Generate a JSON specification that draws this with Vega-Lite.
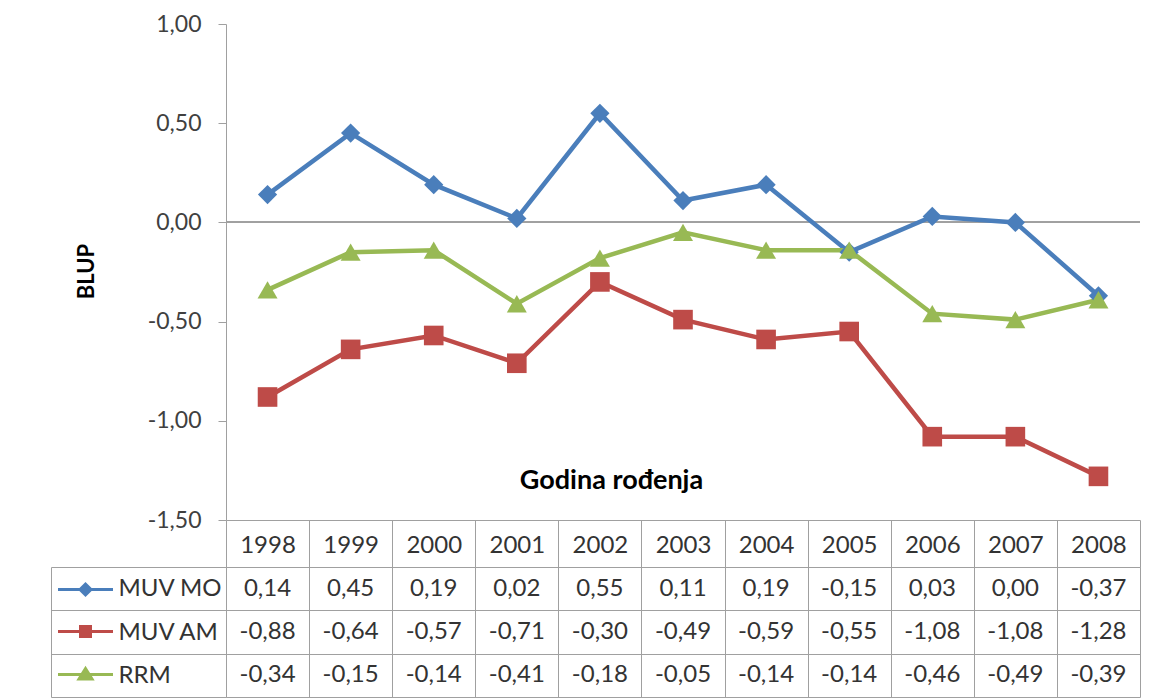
{
  "$schema": "https://vega.github.io/schema/vega-lite/v6.json",
  "background": "white",
  "padding": {"left": 50, "top": 13, "right": 20, "bottom": 0},
  "config": {
    "font": "Lato",
    "view": {"stroke": null},
    "locale": {"number": {"decimal": ",", "thousands": ".", "grouping": [3], "currency": ["", ""], "minus": "-"}}
  },
  "data": {"values": [
    {"year": "1998", "series": "MUV MO", "value": 0.14},
    {"year": "1999", "series": "MUV MO", "value": 0.45},
    {"year": "2000", "series": "MUV MO", "value": 0.19},
    {"year": "2001", "series": "MUV MO", "value": 0.02},
    {"year": "2002", "series": "MUV MO", "value": 0.55},
    {"year": "2003", "series": "MUV MO", "value": 0.11},
    {"year": "2004", "series": "MUV MO", "value": 0.19},
    {"year": "2005", "series": "MUV MO", "value": -0.15},
    {"year": "2006", "series": "MUV MO", "value": 0.03},
    {"year": "2007", "series": "MUV MO", "value": 0.00},
    {"year": "2008", "series": "MUV MO", "value": -0.37},
    {"year": "1998", "series": "MUV AM", "value": -0.88},
    {"year": "1999", "series": "MUV AM", "value": -0.64},
    {"year": "2000", "series": "MUV AM", "value": -0.57},
    {"year": "2001", "series": "MUV AM", "value": -0.71},
    {"year": "2002", "series": "MUV AM", "value": -0.30},
    {"year": "2003", "series": "MUV AM", "value": -0.49},
    {"year": "2004", "series": "MUV AM", "value": -0.59},
    {"year": "2005", "series": "MUV AM", "value": -0.55},
    {"year": "2006", "series": "MUV AM", "value": -1.08},
    {"year": "2007", "series": "MUV AM", "value": -1.08},
    {"year": "2008", "series": "MUV AM", "value": -1.28},
    {"year": "1998", "series": "RRM", "value": -0.34},
    {"year": "1999", "series": "RRM", "value": -0.15},
    {"year": "2000", "series": "RRM", "value": -0.14},
    {"year": "2001", "series": "RRM", "value": -0.41},
    {"year": "2002", "series": "RRM", "value": -0.18},
    {"year": "2003", "series": "RRM", "value": -0.05},
    {"year": "2004", "series": "RRM", "value": -0.14},
    {"year": "2005", "series": "RRM", "value": -0.14},
    {"year": "2006", "series": "RRM", "value": -0.46},
    {"year": "2007", "series": "RRM", "value": -0.49},
    {"year": "2008", "series": "RRM", "value": -0.39}
  ]},
  "spacing": 47,
  "bounds": "flush",
  "resolve": {"scale": {"color": "independent", "shape": "independent", "size": "independent", "fill": "independent", "stroke": "independent"}},
  "vconcat": [
    {
      "width": 914,
      "height": 496,
      "encoding": {
        "x": {"field": "year", "type": "ordinal", "scale": {"type": "point", "padding": 0.5},
          "axis": {"orient": "bottom", "labels": false, "ticks": false, "domain": true, "domainColor": "#a0a0a0", "grid": false,
            "title": "Godina rođenja", "titleFontSize": 27, "titleFontWeight": "bold", "titleColor": "#000000",
            "titleX": 385, "titleY": -40, "titleBaseline": "middle", "titleAlign": "center"}},
        "y": {"field": "value", "type": "quantitative", "scale": {"domain": [-1.5, 1], "nice": false, "zero": false},
          "axis": {"values": [-1.5, -1, -0.5, 0, 0.5, 1], "format": ".2f", "grid": false, "tickSize": 8, "tickColor": "#a0a0a0",
            "domainColor": "#a0a0a0", "labelFontSize": 23, "labelColor": "#404040", "labelPadding": 17, "labelFlush": false,
            "title": "BLUP", "titleFontSize": 22, "titleFontWeight": "bold", "titleColor": "#000000",
            "titleX": -140, "titleY": 247, "titleBaseline": "middle", "titleAlign": "center"}}
      },
      "layer": [
        {"mark": {"type": "rule", "color": "#a0a0a0", "strokeWidth": 1}, "encoding": {"x": null, "y": {"datum": 0}}},
        {"mark": {"type": "line", "strokeWidth": 4.5},
          "encoding": {"color": {"field": "series", "type": "nominal", "scale": {"domain": ["MUV MO", "MUV AM", "RRM"], "range": ["#4a7ebb", "#be4b48", "#98b954"]}, "legend": null}}},
        {"mark": {"type": "point", "filled": true, "opacity": 1},
          "encoding": {
            "color": {"field": "series", "type": "nominal", "scale": {"domain": ["MUV MO", "MUV AM", "RRM"], "range": ["#4a7ebb", "#be4b48", "#98b954"]}, "legend": null},
            "shape": {"field": "series", "type": "nominal", "scale": {"domain": ["MUV MO", "MUV AM", "RRM"], "range": ["diamond", "square", "triangle-up"]}, "legend": null},
            "size": {"field": "series", "type": "nominal", "scale": {"domain": ["MUV MO", "MUV AM", "RRM"], "range": [370, 400, 430]}, "legend": null}
          }}
      ]
    },
    {
      "width": 914,
      "height": 130,
      "layer": [
        {"mark": {"type": "text", "fontSize": 24, "color": "#333333"},
          "encoding": {
            "x": {"field": "year", "type": "ordinal", "scale": {"type": "band", "paddingInner": 0, "paddingOuter": 0},
              "axis": {"orient": "top", "title": null, "tickBand": "extent", "tickSize": 47, "tickColor": "#a0a0a0", "domainColor": "#a0a0a0",
                "labelPadding": -25, "labelBaseline": "middle", "labelFontSize": 24, "labelColor": "#333333", "labelAngle": 0,
                "grid": true, "gridColor": "#a0a0a0", "gridOpacity": 1}},
            "y": {"field": "series", "type": "nominal", "sort": ["MUV MO", "MUV AM", "RRM"], "scale": {"type": "band", "paddingInner": 0, "paddingOuter": 0},
              "axis": {"orient": "left", "title": null, "ticks": true, "tickBand": "extent", "tickSize": 175, "tickColor": "#a0a0a0", "domainColor": "#a0a0a0",
                "labelAlign": "left", "labelBaseline": "middle", "labelPadding": -67, "labelFontSize": 24, "labelColor": "#333333",
                "grid": true, "gridColor": "#a0a0a0", "gridOpacity": 1}},
            "text": {"field": "value", "type": "quantitative", "format": ".2f"}
          }},
        {"mark": {"type": "point", "filled": true, "opacity": 0, "strokeWidth": 3},
          "encoding": {
            "x": {"field": "year", "type": "ordinal", "scale": {"type": "band", "paddingInner": 0, "paddingOuter": 0}},
            "y": {"field": "series", "type": "nominal", "sort": ["MUV MO", "MUV AM", "RRM"], "scale": {"type": "band", "paddingInner": 0, "paddingOuter": 0},
              "axis": {"orient": "right", "offset": -1089, "title": null, "labels": false, "ticks": false, "grid": false, "domain": true, "domainColor": "#a0a0a0"}},
            "fill": {"field": "series", "type": "nominal", "scale": {"domain": ["MUV MO", "MUV AM", "RRM"], "range": ["#4a7ebb", "#be4b48", "#98b954"]},
              "legend": {"orient": "none", "legendX": -152, "legendY": 11, "title": null, "padding": 0, "symbolSize": 400, "symbolStrokeWidth": 3, "symbolOpacity": 1, "labelExpr": "''", "labelFontSize": 10, "rowPadding": 19, "direction": "vertical"}},
            "stroke": {"field": "series", "type": "nominal", "scale": {"domain": ["MUV MO", "MUV AM", "RRM"], "range": ["#4a7ebb", "#be4b48", "#98b954"]},
              "legend": {"orient": "none", "legendX": -152, "legendY": 11, "title": null, "padding": 0, "symbolSize": 400, "symbolStrokeWidth": 3, "symbolOpacity": 1, "labelExpr": "''", "labelFontSize": 10, "rowPadding": 19, "direction": "vertical"}},
            "shape": {"field": "series", "type": "nominal", "scale": {"domain": ["MUV MO", "MUV AM", "RRM"],
                "range": ["M-2.75,0H2.75M-0.55,0L0,-0.55L0.55,0L0,0.55Z", "M-2.75,0H2.75M-0.5,-0.5H0.5V0.5H-0.5Z", "M-2.75,0H2.75M0,-0.6L0.65,0.45H-0.65Z"]},
              "legend": {"orient": "none", "legendX": -152, "legendY": 11, "title": null, "padding": 0, "symbolSize": 400, "symbolStrokeWidth": 3, "symbolOpacity": 1, "labelExpr": "''", "labelFontSize": 10, "rowPadding": 19, "direction": "vertical"}}
          }}
      ],
      "resolve": {"axis": {"y": "independent"}}
    }
  ]
}
